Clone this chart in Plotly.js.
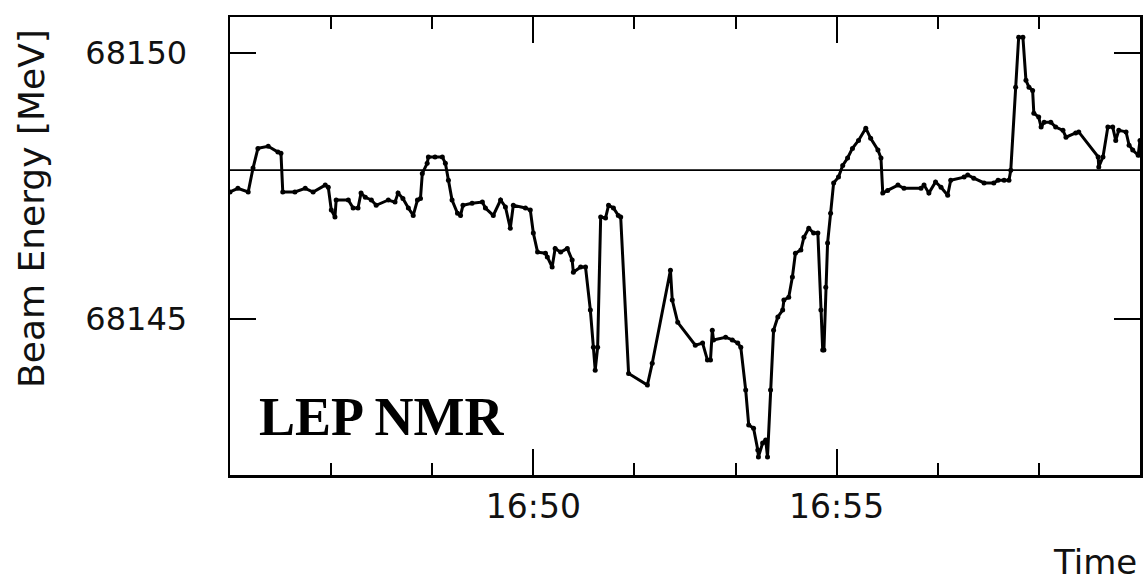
<!DOCTYPE html>
<html>
<head>
<meta charset="utf-8">
<script src="https://cdn.plot.ly/plotly-3.0.1.min.js"></script>
<style>
  html, body { margin: 0; padding: 0; background: #fff; }
  #chart { width: 1143px; height: 586px; }
</style>
</head>
<body>
<div id="chart"></div>
<script>
// Time in minutes after 16:00
const minutesAfter16h = [
  45.00, 45.13, 45.30, 45.38, 45.46, 45.63, 45.79, 45.84, 45.87, 46.07,
  46.24, 46.37, 46.57, 46.62, 46.67, 46.73, 46.75, 46.95, 47.03, 47.11,
  47.16, 47.23, 47.33, 47.41, 47.61, 47.72, 47.77, 47.85, 47.94, 48.02,
  48.09, 48.14, 48.17, 48.25, 48.27, 48.38, 48.50, 48.55, 48.60, 48.66,
  48.75, 48.80, 48.84, 48.99, 49.16, 49.21, 49.34, 49.46, 49.54, 49.62,
  49.67, 49.87, 49.95, 50.00, 50.07, 50.20, 50.23, 50.31, 50.36, 50.45,
  50.56, 50.64, 50.66, 50.78, 50.86, 50.94, 50.99, 51.02, 51.06, 51.11,
  51.19, 51.24, 51.32, 51.40, 51.44, 51.57, 51.88, 51.96, 52.26, 52.29,
  52.38, 52.67, 52.79, 52.87, 52.92, 52.95, 52.97, 53.17, 53.28, 53.37,
  53.42, 53.50, 53.55, 53.63, 53.70, 53.71, 53.78, 53.83, 53.86, 53.91,
  53.96, 54.03, 54.11, 54.13, 54.21, 54.27, 54.32, 54.41, 54.46, 54.54,
  54.62, 54.69, 54.74, 54.77, 54.79, 54.82, 54.85, 54.90, 54.95, 55.03,
  55.10, 55.18, 55.26, 55.36, 55.48, 55.56, 55.68, 55.73, 55.76, 55.84,
  56.01, 56.11, 56.39, 56.44, 56.52, 56.63, 56.72, 56.83, 56.88, 57.10,
  57.16, 57.26, 57.43, 57.59, 57.66, 57.76, 57.84, 57.87, 57.95, 58.00,
  58.07, 58.12, 58.17, 58.23, 58.25, 58.33, 58.37, 58.42, 58.53, 58.61,
  58.73, 58.78, 58.94, 58.99, 59.31, 59.32, 59.39, 59.47, 59.55, 59.60,
  59.65, 59.77, 59.82, 59.88, 59.97, 60.00
];
// Beam energy [MeV] from LEP NMR
const beamEnergy = [
  68147.39, 68147.46, 68147.39, 68147.84, 68148.21, 68148.25, 68148.14, 68148.12, 68147.39, 68147.39,
  68147.46, 68147.39, 68147.52, 68147.48, 68147.05, 68146.92, 68147.24, 68147.24, 68147.09, 68147.09,
  68147.37, 68147.29, 68147.24, 68147.14, 68147.24, 68147.20, 68147.37, 68147.27, 68147.09, 68146.95,
  68147.24, 68147.27, 68147.74, 68147.93, 68148.05, 68148.05, 68148.05, 68147.93, 68147.61, 68147.24,
  68146.99, 68146.95, 68147.14, 68147.18, 68147.20, 68147.09, 68146.95, 68147.24, 68147.11, 68146.71,
  68147.14, 68147.09, 68147.05, 68146.62, 68146.26, 68146.24, 68146.17, 68145.98, 68146.33, 68146.26,
  68146.33, 68146.11, 68145.88, 68145.98, 68145.98, 68145.17, 68144.47, 68144.04, 68144.47, 68146.92,
  68146.90, 68147.14, 68147.09, 68146.95, 68146.92, 68143.98, 68143.76, 68144.17, 68145.92, 68145.36,
  68144.94, 68144.51, 68144.55, 68144.23, 68144.23, 68144.79, 68144.61, 68144.66, 68144.61, 68144.55,
  68144.47, 68143.67, 68143.01, 68142.95, 68142.54, 68142.41, 68142.67, 68142.73, 68142.41, 68143.67,
  68144.79, 68145.04, 68145.17, 68145.36, 68145.41, 68145.79, 68146.24, 68146.30, 68146.54, 68146.71,
  68146.62, 68146.62, 68145.17, 68144.42, 68144.42, 68145.60, 68146.43, 68146.99, 68147.56, 68147.67,
  68147.89, 68148.03, 68148.21, 68148.36, 68148.59, 68148.40, 68148.18, 68148.03, 68147.37, 68147.42,
  68147.52, 68147.46, 68147.46, 68147.52, 68147.37, 68147.58, 68147.48, 68147.33, 68147.61, 68147.67,
  68147.71, 68147.65, 68147.56, 68147.56, 68147.61, 68147.61, 68147.61, 68147.80, 68149.36, 68150.30,
  68150.30, 68149.49, 68149.36, 68149.30, 68148.87, 68148.80, 68148.61, 68148.70, 68148.70, 68148.61,
  68148.55, 68148.42, 68148.50, 68148.52, 68148.05, 68147.86, 68148.05, 68148.61, 68148.61, 68148.36,
  68148.55, 68148.52, 68148.27, 68148.18, 68148.08, 68148.36
];
const referenceEnergy = [68147.8];
const xTickVals = [50, 55];
const xTickText = ['16:50', '16:55'];
const yTickVals = [68145, 68150];
const yTickText = ['68145', '68150'];
const xRange = [45, 60];
const yRange = [68142.07, 68150.68];

const trace = {
  x: minutesAfter16h,
  y: beamEnergy,
  type: 'scatter',
  mode: 'lines+markers',
  line: { color: '#000', width: 3 },
  marker: { color: '#000', size: 5 },
  showlegend: false,
  hoverinfo: 'skip'
};

const axisFont = { family: 'DejaVu Sans, sans-serif', size: 33, color: '#111' };

const layout = {
  width: 1143,
  height: 586,
  margin: { l: 230, r: 3, t: 17, b: 111 },
  paper_bgcolor: '#fff',
  plot_bgcolor: '#fff',
  showlegend: false,
  xaxis: {
    range: xRange,
    tickmode: 'array',
    tickvals: xTickVals,
    ticktext: xTickText,
    ticks: 'inside',
    ticklen: 26,
    tickwidth: 2,
    tickcolor: '#000',
    showline: true,
    linecolor: '#000',
    linewidth: 2.5,
    mirror: 'ticks',
    showgrid: false,
    zeroline: false,
    tickfont: axisFont,
    ticklabelstandoff: 1,
    minor: { ticks: 'inside', ticklen: 12, tickwidth: 2, tickcolor: '#000', dtick: 5/3, tick0: 45, showgrid: false }
  },
  yaxis: {
    range: yRange,
    tickmode: 'array',
    tickvals: yTickVals,
    ticktext: yTickText,
    ticks: 'inside',
    ticklen: 26,
    tickwidth: 2,
    tickcolor: '#000',
    showline: true,
    linecolor: '#000',
    linewidth: 2.5,
    mirror: 'ticks',
    showgrid: false,
    zeroline: false,
    tickfont: { family: 'DejaVu Sans, sans-serif', size: 32, color: '#111' },
    ticklabelstandoff: 34
  },
  shapes: [{
    type: 'line', xref: 'paper', yref: 'y',
    x0: 0, x1: 1, y0: referenceEnergy[0], y1: referenceEnergy[0],
    line: { color: '#000', width: 1.8 }
  }],
  annotations: [
    {
      text: 'Beam Energy [MeV]', textangle: -90,
      xref: 'paper', yref: 'paper', x: -0.2176, y: 0.583,
      xanchor: 'center', yanchor: 'middle', showarrow: false,
      font: { family: 'DejaVu Sans, sans-serif', size: 36, color: '#111' }
    },
    {
      text: 'Time',
      xref: 'paper', yref: 'paper', x: 0.9505, y: -0.19,
      xanchor: 'center', yanchor: 'middle', showarrow: false,
      font: { family: 'DejaVu Sans, sans-serif', size: 34, color: '#111' }
    },
    {
      text: '<b>LEP NMR</b>',
      xref: 'paper', yref: 'paper', x: 0.167, y: 0.126,
      xanchor: 'center', yanchor: 'middle', showarrow: false,
      font: { family: 'Liberation Serif, Times New Roman, serif', size: 54, color: '#000' }
    }
  ]
};

Plotly.newPlot('chart', [trace], layout, { staticPlot: true, displayModeBar: false });
</script>
</body>
</html>
